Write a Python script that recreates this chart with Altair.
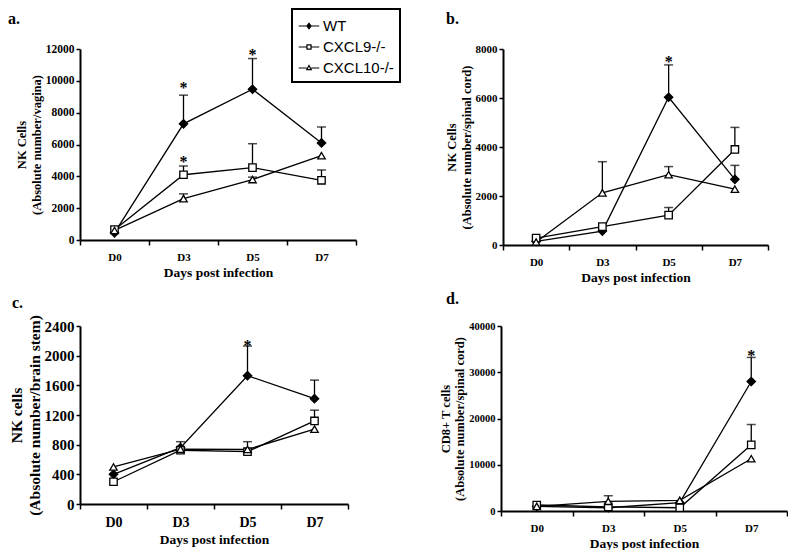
import altair as alt
import pandas as pd

days = ["D0", "D3", "D5", "D7"]
series = ["WT", "CXCL9-/-", "CXCL10-/-"]

# panel a: NK cells, vagina
a_wt = [450, 7300, 9470, 6100]
a_wt_err = [None, 9100, 11400, 7100]
a_c9 = [650, 4100, 4550, 3750]
a_c9_err = [None, 4650, 6050, 4400]
a_c10 = [600, 2600, 3800, 5300]
a_c10_err = [None, 2900, 3950, None]
a_star_day = ["D3", "D3", "D5"]
a_star_y = [9800, 5150, 11850]

# panel b: NK cells, spinal cord
b_wt = [150, 570, 6030, 2680]
b_wt_err = [None, None, 7350, 3250]
b_c9 = [280, 750, 1220, 3900]
b_c9_err = [None, None, 1530, 4800]
b_c10 = [120, 2130, 2870, 2280]
b_c10_err = [None, 3400, 3200, None]
b_star_day = ["D5"]
b_star_y = [7650]

# panel c: NK cells, brain stem
c_wt = [400, 760, 1730, 1420]
c_wt_err = [None, None, 2130, 1670]
c_c9 = [300, 725, 705, 1120]
c_c9_err = [None, 840, None, 1265]
c_c10 = [500, 740, 735, 1010]
c_c10_err = [None, None, 840, None]
c_star_day = ["D5"]
c_star_y = [2185]

# panel d: CD8+ T cells, spinal cord
d_wt = [1000, 700, 1800, 28000]
d_wt_err = [None, None, None, 33200]
d_c9 = [1300, 900, 700, 14300]
d_c9_err = [None, None, None, 18700]
d_c10 = [1000, 2100, 2300, 11300]
d_c10_err = [None, 3300, None, None]
d_star_day = ["D7"]
d_star_y = [34400]

SERIF = "Liberation Serif"
SANS = "Liberation Sans"

legend_paths = [
    "M-1,0H-0.2M0.2,0H1M0,-0.26L0.2,0L0,0.26L-0.2,0Z",
    "M-1,0H-0.2M0.2,0H1M-0.2,-0.2H0.2V0.2H-0.2Z",
    "M-1,0H-0.22M0.22,0H1M0,-0.24L0.22,0.16H-0.22Z",
]
point_shapes = {"WT": "diamond", "CXCL9-/-": "square", "CXCL10-/-": "triangle-up"}
point_fill = {"WT": "black", "CXCL9-/-": "white", "CXCL10-/-": "white"}


def panel(letter, vals, errs, star_day, star_y, ymax, ystep, ytitle, w, h,
          lab_size, ytitle_size, xlab_size, xtitle_size, tdx, toff, with_legend=False):
    rows = []
    for s, v, e in zip(series, vals, errs):
        for d, vv, ee in zip(days, v, e):
            rows.append(dict(day=d, series=s, value=vv, err=ee))
    df = pd.DataFrame(rows)
    sdf = pd.DataFrame({"day": star_day, "value": star_y, "t": ["*"] * len(star_day)})

    xscale = alt.Scale(type="band", domain=days, paddingInner=0, paddingOuter=0)
    xaxis = alt.Axis(title="Days post infection", labelAngle=0, tickBand="extent",
                     labelFont=SERIF, labelFontWeight="bold", labelFontSize=xlab_size,
                     titleFont=SERIF, titleFontWeight="bold", titleFontSize=xtitle_size,
                     labelColor="black", titleColor="black", domainColor="black",
                     tickColor="black", domainWidth=2, tickWidth=1.5, tickSize=5,
                     labelPadding=6, titlePadding=3)
    xenc = alt.X("day:N", scale=xscale, axis=xaxis)
    yscale = alt.Scale(domain=[0, ymax], nice=False)
    yaxis = alt.Axis(title=ytitle, values=list(range(0, ymax + 1, ystep)), grid=False,
                     labelOverlap=False,
                     labelFont=SERIF, labelFontWeight="bold", labelFontSize=lab_size,
                     titleFont=SERIF, titleFontWeight="bold", titleFontSize=ytitle_size,
                     labelColor="black", titleColor="black", domainColor="black",
                     tickColor="black", domainWidth=2, tickWidth=1.5, tickSize=4,
                     labelPadding=2, titlePadding=2, format="d")
    yenc = alt.Y("value:Q", scale=yscale, axis=yaxis)
    errenc = alt.Y("err:Q", scale=yscale, axis=yaxis)
    base = alt.Chart(df)
    layers = []
    layers.append(base.mark_rule(color="black", strokeWidth=1.3)
                  .transform_filter("isValid(datum.err)")
                  .encode(x=xenc, y=yenc, y2="err:Q"))
    layers.append(base.mark_tick(color="black", thickness=1.5, size=9)
                  .transform_filter("isValid(datum.err)")
                  .encode(x=xenc, y=errenc))
    layers.append(base.mark_line(color="black", strokeWidth=1.3)
                  .encode(x=xenc, y=yenc, detail="series:N"))
    for s in series:
        layers.append(base.mark_point(shape=point_shapes[s], filled=True,
                                      fill=point_fill[s], stroke="black",
                                      strokeWidth=1.3, opacity=1,
                                      size=70 if s == "WT" else 55)
                      .transform_filter(alt.datum.series == s)
                      .encode(x=xenc, y=yenc))
    layers.append(alt.Chart(sdf).mark_text(font=SERIF, fontSize=16, fontWeight="bold",
                                           color="black", baseline="middle", dy=4)
                  .encode(x=xenc, y=yenc, text="t:N"))
    if with_legend:
        layers.append(base.mark_point(strokeWidth=1.2, opacity=1, filled=False)
                      .transform_filter("datum.value < 0")
                      .encode(
                          x=xenc, y=yenc,
                          shape=alt.Shape("series:N",
                                          scale=alt.Scale(domain=series, range=legend_paths),
                                          legend=alt.Legend(title=None)),
                          fill=alt.Fill("series:N",
                                        scale=alt.Scale(domain=series,
                                                        range=["black", "white", "white"]),
                                        legend=alt.Legend(title=None)),
                          stroke=alt.Stroke("series:N",
                                            scale=alt.Scale(domain=series,
                                                            range=["black", "black", "black"]),
                                            legend=alt.Legend(title=None)),
                      ))
    return alt.layer(*layers).properties(
        width=w, height=h,
        title=alt.TitleParams(letter, anchor="start", frame="group", dx=tdx, offset=toff,
                              font=SERIF, fontSize=16, fontWeight="bold", color="black"),
    )


pa = panel("a.", [a_wt, a_c9, a_c10], [a_wt_err, a_c9_err, a_c10_err], a_star_day, a_star_y,
           12000, 2000, ["NK Cells", "(Absolute number/vagina)"], 276, 191,
           11.5, 12.5, 11, 13.5, -72, 16, with_legend=True)
pb = panel("b.", [b_wt, b_c9, b_c10], [b_wt_err, b_c9_err, b_c10_err], b_star_day, b_star_y,
           8000, 2000, ["NK Cells", "(Absolute number/spinal cord)"], 265, 196,
           11, 12.5, 11, 13.5, -57, 16)
pc = panel("c.", [c_wt, c_c9, c_c10], [c_wt_err, c_c9_err, c_c10_err], c_star_day, c_star_y,
           2400, 400, ["NK cells", "(Absolute number/brain stem)"], 268, 178,
           15, 15.5, 14, 13.5, -68, 4)
pd_ = panel("d.", [d_wt, d_c9, d_c10], [d_wt_err, d_c9_err, d_c10_err], d_star_day, d_star_y,
            40000, 10000, ["CD8+ T cells", "(Absolute number/spinal cord)"], 286, 185,
            10.5, 12.5, 11, 13.5, -55, 14)

top = alt.hconcat(pa, pb, spacing=88)
bottom = alt.hconcat(pc, pd_, spacing=90)
chart = alt.vconcat(top, bottom, spacing=7).configure(
    padding={"left": 0, "top": 0, "right": 0, "bottom": 0},
    background="white",
).configure_view(stroke=None).configure_axisY(labelOverlap=False).configure_legend(
    orient="none", legendX=212, legendY=-40, strokeColor="black", strokeWidth=2,
    padding=6, labelFont=SANS, labelFontSize=15, labelColor="black",
    symbolSize=420, rowPadding=2, labelOffset=3, symbolStrokeColor="black",
    symbolStrokeWidth=1.2,
)

chart.save("out.html", embed_options={"renderer": "svg", "actions": False})
